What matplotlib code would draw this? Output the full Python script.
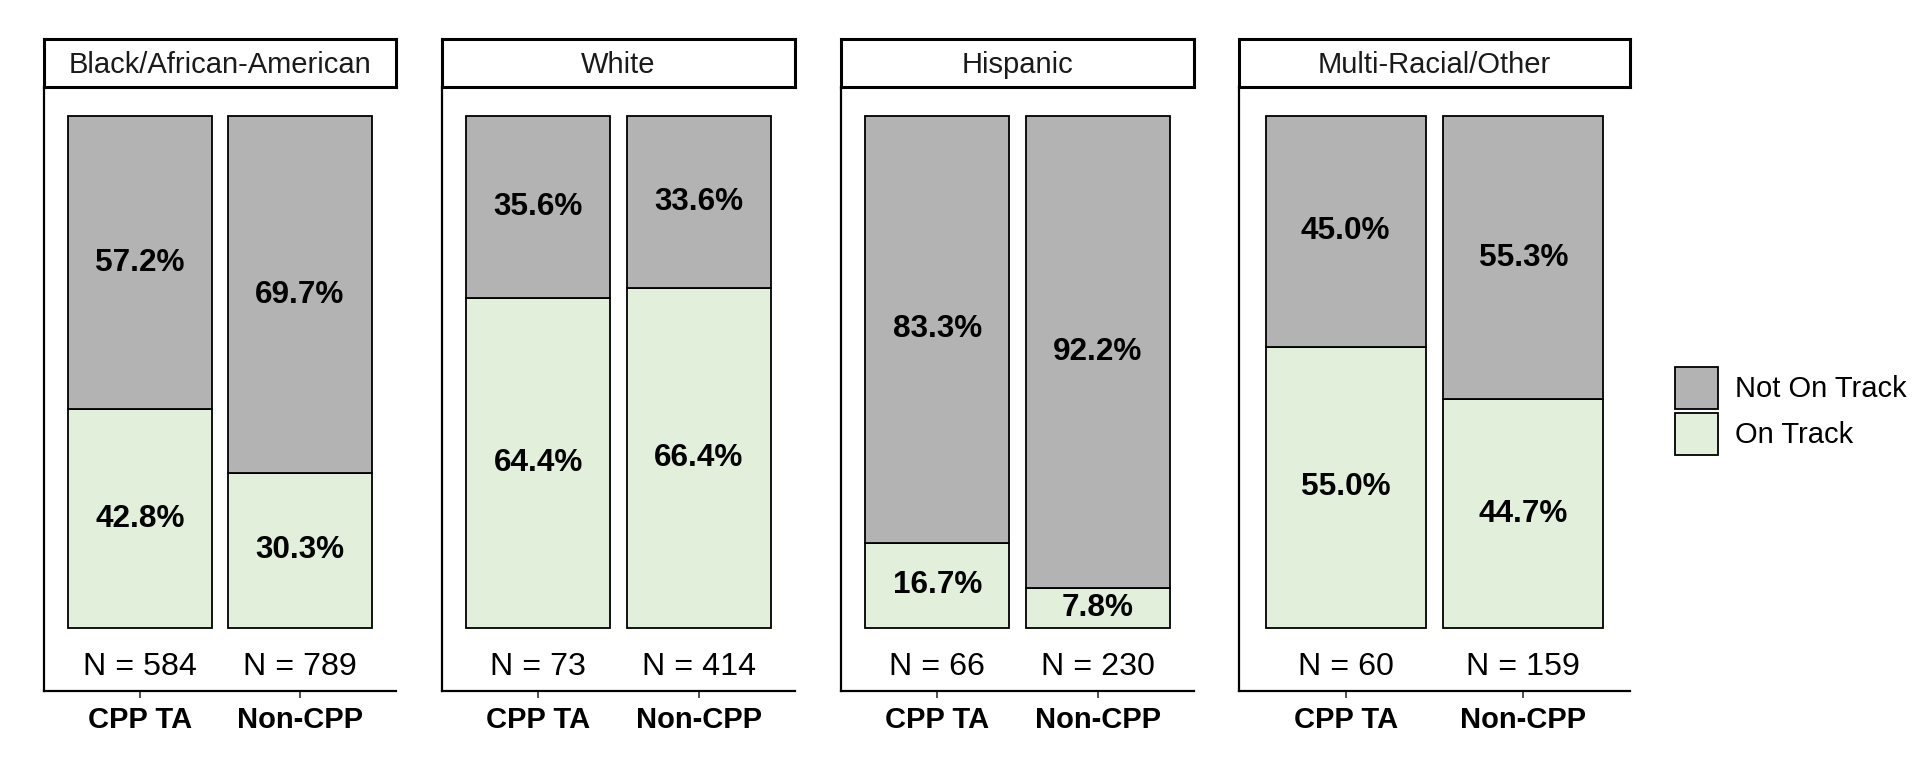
import matplotlib
matplotlib.use("Agg")
import matplotlib.pyplot as plt
from matplotlib.patches import Patch

plt.rcParams['font.family'] = ['Liberation Sans', 'DejaVu Sans']

# data
groups = ['Black/African-American', 'White', 'Hispanic', 'Multi-Racial/Other']
programs = ['CPP TA', 'Non-CPP']
on_track = [[42.8, 30.3], [64.4, 66.4], [16.7, 7.8], [55.0, 44.7]]
not_on_track = [[57.2, 69.7], [35.6, 33.6], [83.3, 92.2], [45.0, 55.3]]
n_counts = [[584, 789], [73, 414], [66, 230], [60, 159]]
legend_labels = ['Not On Track', 'On Track']

GREY = '#B3B3B3'
GREEN = '#E2EFDA'

W, H = 1920, 768
fig = plt.figure(figsize=(W / 100, H / 100), dpi=100)

# panel edges in pixels (left, right); last panel is a bit wider in the original
panel_px = [(44, 396), (442, 795), (841, 1194), (1239, 1630)]
strip_top, strip_bot, axis_y = 39, 87, 691

x = [1, 2]
for i, (left, right) in enumerate(panel_px):
    ax = fig.add_axes([left / W, 1 - axis_y / H, (right - left) / W, (axis_y - strip_bot) / H])
    ax.bar(x, on_track[i], width=0.9, color=GREEN, edgecolor='black', linewidth=1.3)
    ax.bar(x, not_on_track[i], width=0.9, bottom=on_track[i], color=GREY,
           edgecolor='black', linewidth=1.3)

    for xi, on, off, n in zip(x, on_track[i], not_on_track[i], n_counts[i]):
        ax.text(xi, on / 2, f'{on:.1f}%', ha='center', va='center',
                fontsize=22.7, fontweight='bold')
        ax.text(xi, on + off / 2, f'{off:.1f}%', ha='center', va='center',
                fontsize=22.7, fontweight='bold')
        ax.text(xi, -7.6, f'N = {n}', ha='center', va='center', fontsize=23.2)

    ax.set_xlim(0.4, 2.6)
    ax.set_ylim(-12.3, 105.7)
    ax.set_xticks(x)
    ax.set_xticklabels(programs, fontsize=21, fontweight='bold')
    ax.tick_params(axis='x', length=5, width=1.2, color='#333333', pad=6)
    ax.set_yticks([])
    for s in ['top', 'right']:
        ax.spines[s].set_visible(False)
    for s in ['left', 'bottom']:
        ax.spines[s].set_linewidth(1.6)

    # facet strip
    sax = fig.add_axes([left / W, 1 - strip_bot / H, (right - left) / W, (strip_bot - strip_top) / H])
    sax.set_xticks([])
    sax.set_yticks([])
    for s in sax.spines.values():
        s.set_linewidth(2.2)
    sax.text(0.5, 0.46, groups[i], ha='center', va='center', fontsize=21,
             color='#1A1A1A', transform=sax.transAxes)

handles = [Patch(facecolor=GREY, edgecolor='black', linewidth=1.3),
           Patch(facecolor=GREEN, edgecolor='black', linewidth=1.3)]
fig.legend(handles, legend_labels, loc='center left', bbox_to_anchor=(1675 / W, 1 - 411 / H),
           frameon=False, fontsize=21, handlelength=1.48, handleheight=1.84,
           handletextpad=0.58, labelspacing=0.14, borderpad=0, borderaxespad=0)

fig.savefig('out.png', dpi=100)
